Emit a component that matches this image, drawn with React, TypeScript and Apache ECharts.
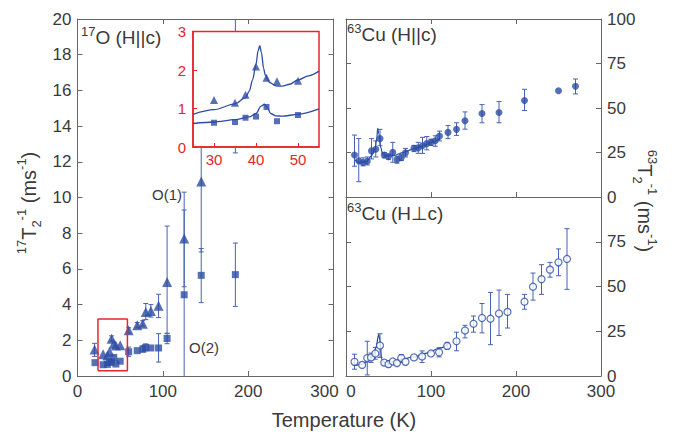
import React, { useEffect, useRef } from 'react';
import * as echarts from 'echarts';

const FONT = '"Liberation Sans", Arial, Helvetica, "DejaVu Sans", sans-serif';
const BLUE = '#2c4ca4';
const ERRC = '#4762b4';
const RED = '#e5262b';
const AXC = '#666666';
const TXT = '#3a3a3a';

// ---------- 17O (H||c): O(1) triangles ----------
const o1T = [20, 30, 35, 37.5, 40, 42.5, 45, 50, 60, 70, 76.5, 80, 86, 95, 105, 125, 145];
const o1V = [1.48, 1.22, 1.15, 1.36, 2.09, 1.8, 1.71, 1.72, 2.56, 2.84, 2.93, 3.59, 3.64, 3.93, 5.27, 7.7, 10.9];
const o1ErrT = [20, 40, 60, 70, 76.5, 80, 86, 95, 105, 125, 145, 185];
const o1ErrLo = [1.1, 1.95, 2.4, 2.7, 2.8, 3.16, 3.3, 3.27, 2.4, 5.0, 6.95, 12.5];
const o1ErrHi = [1.83, 2.25, 2.7, 3.0, 3.1, 4.06, 4.0, 4.58, 8.4, 9.3, 15, 24];

// ---------- 17O (H||c): O(2) squares ----------
const o2T = [20.5, 30, 35, 37.5, 40, 42.5, 45, 50, 60, 70, 76.5, 80, 86, 95, 105, 125, 145, 185];
const o2V = [0.75, 0.63, 0.65, 0.76, 0.79, 1.04, 0.67, 0.83, 1.36, 1.42, 1.5, 1.6, 1.57, 1.57, 2.1, 4.55, 5.64, 5.68];
const o2ErrT = [60, 76.5, 80, 95, 105, 125, 145, 185];
const o2ErrLo = [1.1, 1.35, 1.4, 0.78, 1.81, -1, 4.11, 3.9];
const o2ErrHi = [1.62, 1.7, 1.8, 2.37, 2.37, 10.3, 7.14, 7.45];

// highlighted region in main panel
const boxT = [24, 58.5, 58.5, 24, 24];
const boxV = [0.3, 0.3, 3.2, 3.2, 0.3];

// ---------- inset fits ----------
const fitO1T = [25, 30, 35, 37.5, 38.4, 39.2, 40, 40.5, 40.9, 41.3, 41.8, 42.2, 43.2, 44.7, 46.3, 48, 50, 52.5, 55];
const fitO1V = [0.85, 0.97, 1.12, 1.28, 1.45, 1.75, 2.15, 2.5, 2.63, 2.45, 2.05, 1.87, 1.68, 1.59, 1.58, 1.63, 1.74, 1.85, 1.97];
const fitO2T = [25, 30, 35, 38.4, 40, 41.2, 42, 42.7, 43.5, 44.7, 46.3, 50, 55];
const fitO2V = [0.61, 0.65, 0.71, 0.78, 0.87, 1.06, 1.11, 1.03, 0.87, 0.81, 0.8, 0.85, 0.99];

// ---------- 63Cu (H||c) ----------
const cuCT = [10, 15, 20, 25, 30, 35, 40, 45, 50, 55, 60, 65, 70, 80, 85, 90, 95, 100, 105, 110, 120, 130, 140, 160, 180, 210, 250, 270];
const cuCV = [23.6, 20.3, 19.4, 20.1, 25.9, 26.8, 32.8, 23.6, 22.7, 25.1, 21, 22.1, 24.8, 27.4, 27.6, 28.8, 30, 30.7, 31.6, 34.2, 36.3, 38, 42.8, 46.9, 47.5, 54.2, 59.7, 62.2];
const cuCLo = [17.3, 8.6, 17.5, 18, 21.4, 22.5, 28.8, 22, 21, 19.5, 19, 20.5, 22.5, 25.5, 24.5, 24.5, 26.5, 29, 28.5, 31.5, 32.8, 34.6, 38.1, 41.7, 41.7, 48.6, null, 57.9];
const cuCHi = [34.8, 32.8, 22, 22.5, 32.8, 31.5, 38, 25, 24, 30.7, 23, 24, 27.3, 29, 30.7, 33.5, 34, 32.5, 34.4, 37, 40.2, 41.7, 47.8, 51.9, 53.6, 60.5, null, 66.3];
const fitCT = [10.6, 16.5, 24.3, 30.2, 34.1, 36.1, 37.3, 38.8, 40.8, 43.1, 47.8, 55.7, 67.5, 79.2, 91, 102.7, 110.6];
const fitCV = [20.8, 19.2, 19.9, 23.3, 27, 32.6, 38.5, 35.4, 27.9, 24.2, 22.9, 23.3, 25.1, 27, 28.8, 31.1, 32.9];

// ---------- 63Cu (H⊥c) ----------
const cuAT = [10, 19, 25, 29.5, 34.5, 40, 45, 50, 55, 60, 65, 70, 80, 89.5, 100, 109.5, 119, 130, 140, 150, 160, 170, 180, 190, 210, 220, 230, 240, 250, 260];
const cuAV = [7.9, 6.2, 10, 10.4, 12.6, 17, 7.5, 6.6, 8.1, 7.2, 10, 7.9, 10.4, 10.9, 12.6, 13.2, 16.8, 19.4, 25.4, 29.2, 32.4, 32, 34.9, 35.8, 41.5, 49.9, 54.1, 59.4, 63.5, 65.4];
const cuALo = [3.8, null, 0.6, 7.6, 9.4, 10.4, null, 5, null, null, 7.6, null, null, 7.5, null, 10.7, 15, 14.1, 21.3, 24.5, 24.1, 17.5, 22.6, 26.8, 37.3, 42.4, 45.6, 55.2, 56, 48.4];
const cuAHi = [12.2, null, 19.4, 12.8, 16, 23.6, null, 8.5, null, null, 12, null, null, 14, null, 15.8, 18.8, 24.5, 28.3, 33.5, 40.5, 46.7, 48, 45.6, 45.6, 57.5, 62.2, 63.5, 71, 82.3];
const fitAT = [9.8, 19.2, 26.3, 32.2, 35.3, 38.4, 40, 42, 45.1, 51.8, 63.5, 79.2, 94.9, 110.6, 120.4];
const fitAV = [5.7, 6.6, 8.5, 11.3, 16, 23.2, 19.8, 9.4, 7.5, 7.5, 9, 10.7, 12.8, 15.6, 17.9];

// ---------- tick settings ----------
const xTicks = { min: 0, max: 300, interval: 100 };
const oTicks = { min: 0, max: 20, interval: 2 };
const cuTicks = { min: 0, max: 100, interval: 25 };
const insetX = { min: 25, max: 55, values: [30, 40, 50] };
const insetY = { min: 0, max: 3, interval: 1 };

const zip2 = (a: number[], b: number[]) => a.map((v, i) => [v, b[i]]);
const zip3 = (a: number[], b: (number | null)[], c: (number | null)[]) =>
  a.map((v, i) => [v, b[i], c[i]]).filter((r) => r[1] != null && r[2] != null);

function errRender(params: any, api: any) {
  const t = api.value(0);
  const lo = api.value(1);
  const hi = api.value(2);
  const cs = params.coordSys;
  const top = cs.y;
  const bot = cs.y + cs.height;
  const pLo = api.coord([t, lo]);
  const pHi = api.coord([t, hi]);
  const x = pLo[0];
  const yHi = pHi[1];
  const yLo = pLo[1];
  const st = { stroke: api.visual('color'), lineWidth: 1 };
  const c = 2.5;
  const children: any[] = [
    { type: 'line', shape: { x1: x, y1: Math.max(top, yHi), x2: x, y2: Math.min(bot, yLo) }, style: st },
  ];
  if (yHi >= top) children.push({ type: 'line', shape: { x1: x - c, y1: yHi, x2: x + c, y2: yHi }, style: st });
  if (yLo <= bot) children.push({ type: 'line', shape: { x1: x - c, y1: yLo, x2: x + c, y2: yLo }, style: st });
  return { type: 'group', children };
}

const baseAxis: any = {
  type: 'value',
  splitLine: { show: false },
  axisLine: { show: true, onZero: false, lineStyle: { color: AXC, width: 1 } },
  axisTick: { show: true, inside: true, length: 5, lineStyle: { color: AXC, width: 1 } },
  axisLabel: { show: false },
};
const lbl = (extra: any) => ({ show: true, color: TXT, fontSize: 17, fontFamily: FONT, ...extra });
const redLine = { show: true, onZero: false, lineStyle: { color: RED, width: 1.5 } };

const errSeries = (name: string, xi: number, yi: number, data: any[], z = 2) => ({
  name,
  type: 'custom',
  xAxisIndex: xi,
  yAxisIndex: yi,
  renderItem: errRender,
  encode: { x: 0, y: [1, 2] },
  itemStyle: { color: ERRC },
  data,
  z,
  silent: true,
});

const rich = (extra: any = {}) => ({ fontFamily: FONT, fill: TXT, ...extra });

const option: any = {
  animation: false,
  backgroundColor: '#ffffff',
  grid: [
    { left: 77.5, top: 19, width: 256, height: 357 },
    { left: 193, top: 31.5, width: 126, height: 115.5, show: true, backgroundColor: '#ffffff', borderColor: RED, borderWidth: 1.5, z: 10 },
    { left: 346, top: 19, width: 255, height: 178 },
    { left: 346, top: 197, width: 255, height: 179 },
  ],
  xAxis: [
    {
      ...baseAxis, gridIndex: 0, position: 'bottom', ...xTicks,
      axisLabel: lbl({
        margin: 7,
        formatter: (v: number) => (v === 300 ? '{l|300}' : String(v)),
        rich: { l: { fontSize: 17, fontFamily: FONT, color: TXT, padding: [0, 18, 0, 0] } },
      }),
    },
    { ...baseAxis, gridIndex: 0, position: 'top', ...xTicks },
    {
      ...baseAxis, gridIndex: 1, position: 'bottom', min: insetX.min, max: insetX.max, z: 11,
      axisLine: redLine,
      axisTick: { show: true, inside: true, length: 4, customValues: insetX.values, lineStyle: { color: RED } },
      axisLabel: lbl({ color: RED, fontSize: 15, margin: 5, customValues: insetX.values }),
    },
    { ...baseAxis, gridIndex: 2, position: 'bottom', ...xTicks },
    { ...baseAxis, gridIndex: 2, position: 'top', ...xTicks },
    {
      ...baseAxis, gridIndex: 3, position: 'bottom', ...xTicks,
      axisLabel: lbl({
        margin: 7,
        formatter: (v: number) => (v === 0 ? '{r|0}' : String(v)),
        rich: { r: { fontSize: 17, fontFamily: FONT, color: TXT, padding: [0, 0, 0, 10] } },
      }),
    },
  ],
  yAxis: [
    { ...baseAxis, gridIndex: 0, position: 'left', ...oTicks, axisLabel: lbl({ margin: 6 }) },
    { ...baseAxis, gridIndex: 0, position: 'right', ...oTicks },
    {
      ...baseAxis, gridIndex: 1, position: 'left', ...insetY, z: 11,
      axisLine: redLine,
      axisTick: { show: true, inside: true, length: 4, lineStyle: { color: RED } },
      axisLabel: lbl({ color: RED, fontSize: 15, margin: 7 }),
    },
    { ...baseAxis, gridIndex: 2, position: 'left', ...cuTicks },
    { ...baseAxis, gridIndex: 2, position: 'right', ...cuTicks, axisLabel: lbl({ margin: 6 }) },
    { ...baseAxis, gridIndex: 3, position: 'left', ...cuTicks },
    { ...baseAxis, gridIndex: 3, position: 'right', ...cuTicks, axisLabel: lbl({ margin: 6, showMaxLabel: false }) },
  ],
  series: [
    errSeries('O1 err', 0, 0, zip3(o1ErrT, o1ErrLo, o1ErrHi)),
    errSeries('O2 err', 0, 0, zip3(o2ErrT, o2ErrLo, o2ErrHi)),
    {
      name: 'O(1)', type: 'scatter', xAxisIndex: 0, yAxisIndex: 0, symbol: 'triangle', symbolSize: 10,
      itemStyle: { color: BLUE }, data: zip2(o1T, o1V), z: 3,
    },
    {
      name: 'O(2)', type: 'scatter', xAxisIndex: 0, yAxisIndex: 0, symbol: 'rect', symbolSize: 7,
      itemStyle: { color: BLUE }, data: zip2(o2T, o2V), z: 3,
    },
    {
      name: 'box', type: 'line', xAxisIndex: 0, yAxisIndex: 0, symbol: 'none',
      lineStyle: { color: RED, width: 1.5 }, data: zip2(boxT, boxV), z: 4,
    },
    // inset
    {
      name: 'fit O1', type: 'line', xAxisIndex: 2, yAxisIndex: 2, symbol: 'none', smooth: 0.3, smoothMonotone: 'x',
      lineStyle: { color: BLUE, width: 1.3 }, data: zip2(fitO1T, fitO1V), z: 12,
    },
    {
      name: 'fit O2', type: 'line', xAxisIndex: 2, yAxisIndex: 2, symbol: 'none', smooth: 0.3, smoothMonotone: 'x',
      lineStyle: { color: BLUE, width: 1.3 }, data: zip2(fitO2T, fitO2V), z: 12,
    },
    {
      name: 'inset O1', type: 'scatter', xAxisIndex: 2, yAxisIndex: 2, symbol: 'triangle', symbolSize: 8,
      itemStyle: { color: BLUE }, data: zip2(o1T, o1V).filter((p) => p[0] >= 25 && p[0] <= 55), z: 13,
    },
    {
      name: 'inset O2', type: 'scatter', xAxisIndex: 2, yAxisIndex: 2, symbol: 'rect', symbolSize: 6,
      itemStyle: { color: BLUE }, data: zip2(o2T, o2V).filter((p) => p[0] >= 25 && p[0] <= 55), z: 13,
    },
    // 63Cu H||c
    errSeries('Cu c err', 3, 3, zip3(cuCT, cuCLo, cuCHi)),
    {
      name: 'fit Cu c', type: 'line', xAxisIndex: 3, yAxisIndex: 3, symbol: 'none', smooth: 0.3, smoothMonotone: 'x',
      lineStyle: { color: BLUE, width: 1.2 }, data: zip2(fitCT, fitCV), z: 3,
    },
    {
      name: 'Cu c', type: 'scatter', xAxisIndex: 3, yAxisIndex: 3, symbol: 'circle', symbolSize: 7,
      itemStyle: { color: BLUE }, data: zip2(cuCT, cuCV), z: 4,
    },
    // 63Cu H perp c
    errSeries('Cu ab err', 5, 5, zip3(cuAT, cuALo, cuAHi)),
    {
      name: 'fit Cu ab', type: 'line', xAxisIndex: 5, yAxisIndex: 5, symbol: 'none', smooth: 0.3, smoothMonotone: 'x',
      lineStyle: { color: BLUE, width: 1.2 }, data: zip2(fitAT, fitAV), z: 3,
    },
    {
      name: 'Cu ab', type: 'scatter', xAxisIndex: 5, yAxisIndex: 5, symbol: 'circle', symbolSize: 7,
      itemStyle: { color: '#ffffff', borderColor: BLUE, borderWidth: 1.2 }, data: zip2(cuAT, cuAV), z: 4,
    },
  ],
  graphic: [
    {
      type: 'text', x: 81, y: 37, z: 20,
      style: {
        text: '{s|17}{m|O (H||c)}', align: 'left', verticalAlign: 'middle',
        rich: { s: rich({ fontSize: 13, verticalAlign: 'top' }), m: rich({ fontSize: 19, lineHeight: 24 }) },
      },
    },
    {
      type: 'text', x: 347, y: 34, z: 20,
      style: {
        text: '{s|63}{m|Cu (H||c)}', align: 'left', verticalAlign: 'middle',
        rich: { s: rich({ fontSize: 13, verticalAlign: 'top' }), m: rich({ fontSize: 19, lineHeight: 24 }) },
      },
    },
    {
      type: 'text', x: 347, y: 213, z: 20,
      style: {
        text: '{s|63}{m|Cu (H\u22A5c)}', align: 'left', verticalAlign: 'middle',
        rich: { s: rich({ fontSize: 13, verticalAlign: 'top' }), m: rich({ fontSize: 19, lineHeight: 24 }) },
      },
    },
    {
      type: 'text', x: 152, y: 194, z: 20,
      style: { text: 'O(1)', fontSize: 15, fontFamily: FONT, fill: TXT, align: 'left', verticalAlign: 'middle' },
    },
    {
      type: 'text', x: 189, y: 347, z: 20,
      style: { text: 'O(2)', fontSize: 15, fontFamily: FONT, fill: TXT, align: 'left', verticalAlign: 'middle' },
    },
    {
      type: 'text', x: 344, y: 420, z: 20,
      style: { text: 'Temperature (K)', fontSize: 20, fontFamily: FONT, fill: TXT, align: 'center', verticalAlign: 'middle' },
    },
    {
      type: 'text', x: 29, y: 203, rotation: Math.PI / 2, z: 20,
      style: {
        text: '{s|17}{m|T}{b|2}{s|-1}{m| (ms}{s|-1}{m|)}', align: 'center', verticalAlign: 'middle',
        rich: {
          m: rich({ fontSize: 20, lineHeight: 28 }),
          s: rich({ fontSize: 13, verticalAlign: 'top' }),
          b: rich({ fontSize: 13, verticalAlign: 'bottom' }),
        },
      },
    },
    {
      type: 'text', x: 645, y: 201, rotation: -Math.PI / 2, z: 20,
      style: {
        text: '{s|63}{m|T}{b|2}{s|-1}{m| (ms}{s|-1}{m|)}', align: 'center', verticalAlign: 'middle',
        rich: {
          m: rich({ fontSize: 20, lineHeight: 28 }),
          s: rich({ fontSize: 13, verticalAlign: 'top' }),
          b: rich({ fontSize: 13, verticalAlign: 'bottom' }),
        },
      },
    },
  ],
};

export default function App() {
  const ref = useRef<HTMLDivElement>(null);
  useEffect(() => {
    const chart = echarts.init(ref.current as HTMLDivElement, null, { renderer: 'svg' });
    chart.setOption(option);
    return () => chart.dispose();
  }, []);
  return (
    <div
      ref={ref}
      style={{ position: 'absolute', left: 0, top: 0, width: 689, height: 433, background: '#ffffff' }}
    />
  );
}
